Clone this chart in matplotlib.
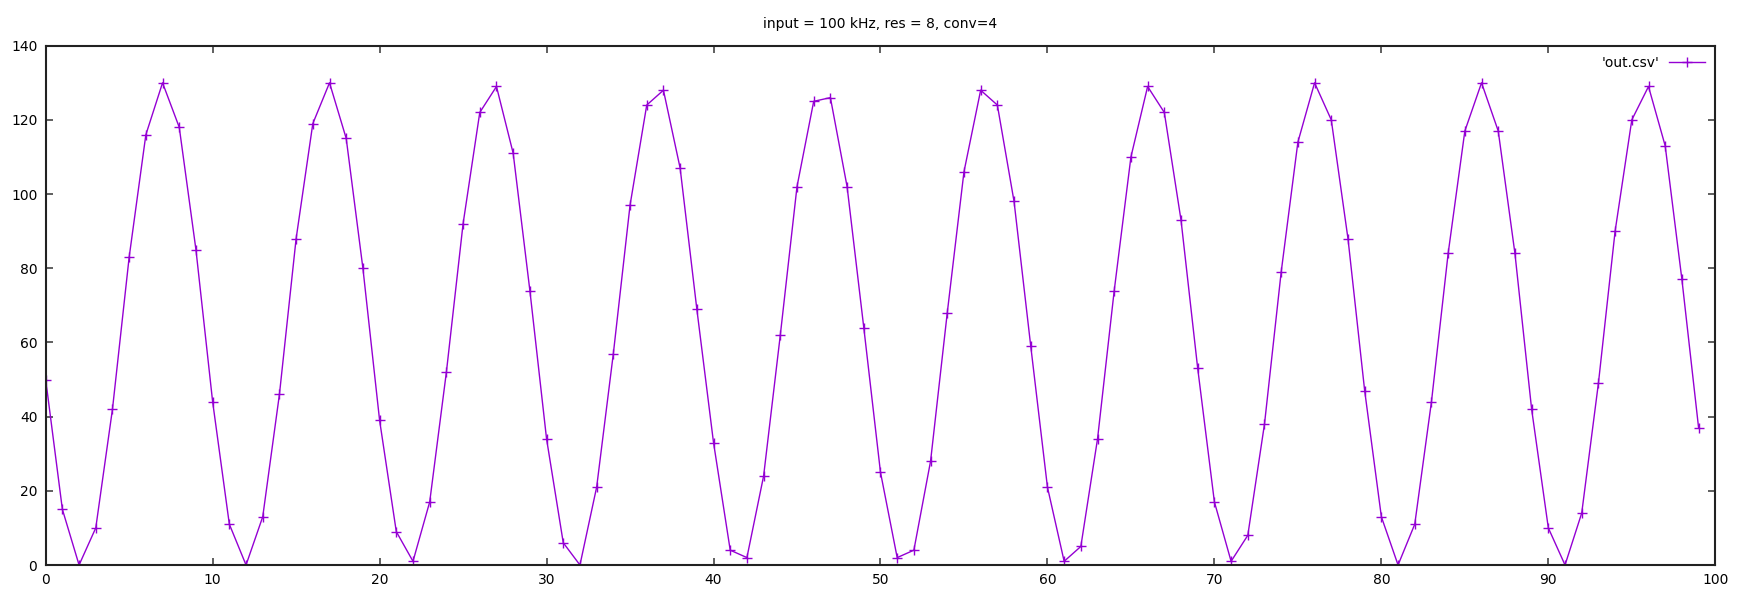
import matplotlib
matplotlib.use("Agg")
import matplotlib.pyplot as plt

sample = list(range(100))
value = [50, 15, 0, 10, 42, 83, 116, 130, 118, 85,
         44, 11, 0, 13, 46, 88, 119, 130, 115, 80,
         39, 9, 1, 17, 52, 92, 122, 129, 111, 74,
         34, 6, 0, 21, 57, 97, 124, 128, 107, 69,
         33, 4, 2, 24, 62, 102, 125, 126, 102, 64,
         25, 2, 4, 28, 68, 106, 128, 124, 98, 59,
         21, 1, 5, 34, 74, 110, 129, 122, 93, 53,
         17, 1, 8, 38, 79, 114, 130, 120, 88, 47,
         13, 0, 11, 44, 84, 117, 130, 117, 84, 42,
         10, 0, 14, 49, 90, 120, 129, 113, 77, 37]
title = "input = 100 kHz, res = 8, conv=4"
label = "'out.csv'"

plt.rcParams['font.family'] = ['DejaVu Sans']
fig = plt.figure(figsize=(17.37, 5.95), dpi=100)
ax = fig.add_axes([0.0263, 0.0504, 0.9612, 0.8728])

ax.plot(sample, value, color='#9400d3', lw=1, marker='+', ms=7, mew=1, label=label)

ax.set_xlim(0, 100)
ax.set_ylim(0, 140)
ax.set_xticks(range(0, 101, 10))
ax.set_yticks(range(0, 141, 20))
ax.tick_params(direction='in', length=5, width=1.2, color='#444444',
               top=True, right=True, labelsize=10, pad=6)
for s in ax.spines.values():
    s.set_linewidth(1.5)
    s.set_color('#222222')

ax.set_title(title, fontsize=10, pad=13)
ax.legend(loc='upper right', frameon=False, markerfirst=False, fontsize=10,
          handlelength=2.6, handletextpad=0.7, borderaxespad=0.35)

fig.savefig("out.png", dpi=100)
